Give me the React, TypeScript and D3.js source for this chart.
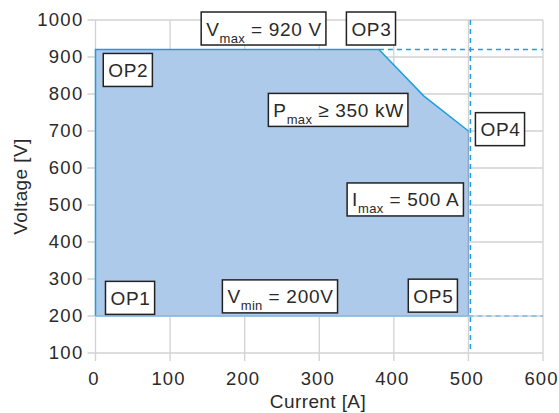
import React, { useRef, useEffect } from "react";
import * as d3 from "d3";

// operating area outline (current A, voltage V)
const areaCurrent = [0, 0, 380, 440, 500, 500];
const areaVoltage = [200, 920, 920, 795, 700, 200];

const xTicks = [0, 100, 200, 300, 400, 500, 600];
const yTicks = [100, 200, 300, 400, 500, 600, 700, 800, 900, 1000];

const vMax = 920;
const vMin = 200;
const iMax = 500;
const pCorner = 380;

// annotation texts: main letter, subscript, rest
const labelMain = ["V", "", "", "P", "", "I", "", "V", ""];
const labelSub = ["max", "", "", "max", "", "max", "", "min", ""];
const labelRest = [" = 920 V", "OP3", "OP2", " \u2265 350 kW", "OP4", " = 500 A", "OP1", " = 200V", "OP5"];
// where each box is centred, in chart units
const labelCurrent = [226, 370, 44, 326, 543, 416, 47, 248, 453];
const labelVoltage = [977, 977, 865, 757, 705, 515, 249, 253, 255];

function App() {
  const ref = useRef(null);

  useEffect(() => {
    const svg = d3.select(ref.current);
    svg.selectAll("*").remove();

    const font = "'Liberation Sans', Arial, sans-serif";
    const ink = "#2a2a2a";
    const blue = "#1c9fdd";

    const x = d3.scaleLinear().domain([0, 600]).range([95.5, 543]);
    const y = d3.scaleLinear().domain([100, 1000]).range([353, 20]);

    const g = svg.append("g");

    // grid
    g.selectAll(".gx")
      .data(xTicks)
      .enter()
      .append("line")
      .attr("x1", (d) => x(d))
      .attr("x2", (d) => x(d))
      .attr("y1", y(1000))
      .attr("y2", y(100) + 8)
      .attr("stroke", "#d2d2d2")
      .attr("stroke-width", 1.3);

    g.selectAll(".gy")
      .data(yTicks)
      .enter()
      .append("line")
      .attr("x1", x(0) - 8)
      .attr("x2", x(600))
      .attr("y1", (d) => y(d))
      .attr("y2", (d) => y(d))
      .attr("stroke", "#d2d2d2")
      .attr("stroke-width", 1.3);

    // area
    const pts = areaCurrent.map((c, i) => [x(c), y(areaVoltage[i])]);
    g.append("path")
      .attr("d", d3.line()(pts) + "Z")
      .attr("fill", "#aecaea");

    g.append("path")
      .attr("d", d3.line()([pts[4], pts[3], pts[2], pts[1], pts[0]]))
      .attr("fill", "none")
      .attr("stroke", blue)
      .attr("stroke-width", 1.5);
    g.append("path")
      .attr("d", d3.line()([pts[0], pts[5]]))
      .attr("fill", "none")
      .attr("stroke", "#7fb9e6")
      .attr("stroke-width", 1.5);
    g.append("path")
      .attr("d", d3.line()([pts[5], pts[4]]))
      .attr("fill", "none")
      .attr("stroke", "#8da9c6")
      .attr("stroke-width", 1.5);

    // limit lines
    const dash = (x1, y1, x2, y2, col) =>
      g.append("line")
        .attr("x1", x1).attr("y1", y1).attr("x2", x2).attr("y2", y2)
        .attr("stroke", col)
        .attr("stroke-width", 1.5)
        .attr("stroke-dasharray", "5,4");
    dash(x(iMax) + 2, y(1000), x(iMax) + 2, y(100), blue);
    dash(x(pCorner), y(vMax), x(600), y(vMax), blue);
    dash(x(iMax), y(vMin), x(600), y(vMin), "#7fb9e6");

    // tick labels
    g.selectAll(".tx")
      .data(xTicks)
      .enter()
      .append("text")
      .attr("x", (d) => x(d) - 1.5)
      .attr("y", 385)
      .attr("text-anchor", "middle")
      .attr("font-family", font)
      .attr("font-size", 18.5)
      .attr("letter-spacing", 1.1)
      .attr("fill", ink)
      .text((d) => d);

    g.selectAll(".ty")
      .data(yTicks)
      .enter()
      .append("text")
      .attr("x", 83.5)
      .attr("y", (d) => y(d))
      .attr("dy", "0.35em")
      .attr("text-anchor", "end")
      .attr("font-family", font)
      .attr("font-size", 18.5)
      .attr("letter-spacing", 1.3)
      .attr("fill", ink)
      .text((d) => d);

    g.append("text")
      .attr("x", 318)
      .attr("y", 408)
      .attr("text-anchor", "middle")
      .attr("font-family", font)
      .attr("font-size", 19)
      .attr("letter-spacing", 0.4)
      .attr("fill", ink)
      .text("Current [A]");

    g.append("text")
      .attr("transform", `translate(27,${(y(100) + y(1000)) / 2}) rotate(-90)`)
      .attr("text-anchor", "middle")
      .attr("font-family", font)
      .attr("font-size", 19)
      .attr("letter-spacing", 0.4)
      .attr("fill", ink)
      .text("Voltage [V]");

    // annotation boxes
    labelRest.forEach((rest, i) => {
      const cx = x(labelCurrent[i]);
      const cy = y(labelVoltage[i]);
      const box = g.append("g");
      const rect = box.append("rect");
      const t = box.append("text")
        .attr("font-family", font)
        .attr("font-size", 19)
        .attr("letter-spacing", 0.7)
        .attr("fill", ink)
        .attr("y", cy + 7);
      if (labelMain[i]) {
        t.append("tspan").text(labelMain[i]);
        t.append("tspan")
          .attr("font-size", 13)
          .attr("letter-spacing", 0.3)
          .attr("dy", 7)
          .text(labelSub[i]);
        t.append("tspan").attr("dy", -7).text(rest);
      } else {
        t.text(rest);
      }
      const w = t.node().getBBox().width;
      t.attr("x", cx - w / 2);
      rect
        .attr("x", cx - w / 2 - 5)
        .attr("y", cy - 16.5)
        .attr("width", w + 9)
        .attr("height", 33)
        .attr("fill", "#fff")
        .attr("stroke", "#222")
        .attr("stroke-width", 1.5);
    });
  });

  return (
    <svg
      ref={ref}
      width="559"
      height="413"
      style={{ position: "absolute", left: 0, top: 0, background: "#fff" }}
    ></svg>
  );
}

export default App;
